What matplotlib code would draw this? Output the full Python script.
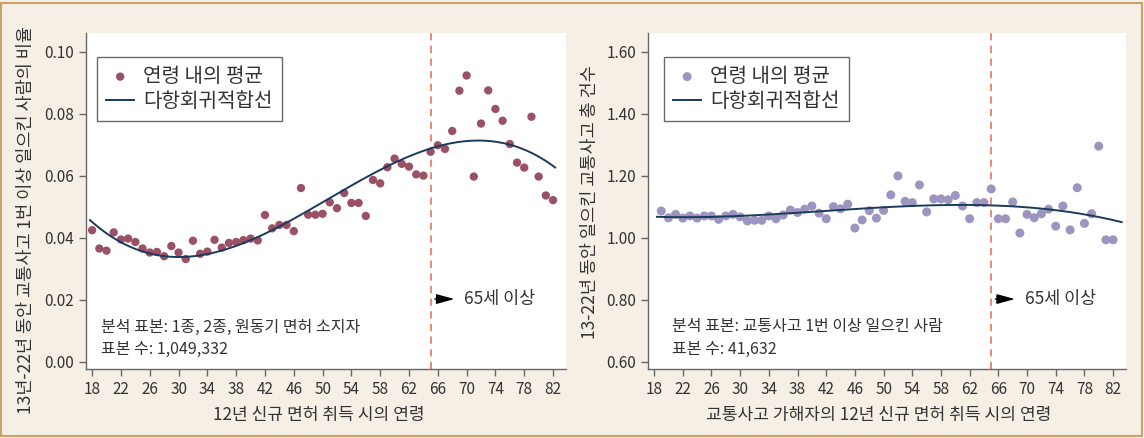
import numpy as np
import matplotlib
matplotlib.use("Agg")
import matplotlib.pyplot as plt
from matplotlib.patches import Rectangle

plt.rcParams['font.family'] = ['Noto Sans CJK KR', 'DejaVu Sans']
plt.rcParams['font.weight'] = 'light'

ages_left = list(range(18, 83))
ages_right = list(range(19, 83))

rate_left = [0.0425, 0.0366, 0.0359, 0.0418, 0.0395, 0.0398, 0.0387, 0.0366, 0.0353, 0.0355,
             0.0341, 0.0374, 0.0353, 0.0332, 0.0391, 0.0349, 0.0356, 0.0394, 0.0369, 0.0384,
             0.0387, 0.0393, 0.0398, 0.0392, 0.0474, 0.0431, 0.0442, 0.0442, 0.0422, 0.0561,
             0.0475, 0.0475, 0.0478, 0.0515, 0.0496, 0.0545, 0.0513, 0.0513, 0.0471, 0.0587,
             0.0576, 0.0628, 0.0656, 0.0639, 0.0630, 0.0605, 0.0601, 0.0678, 0.0699, 0.0687,
             0.0745, 0.0875, 0.0924, 0.0598, 0.0769, 0.0876, 0.0816, 0.0778, 0.0703, 0.0643,
             0.0627, 0.0791, 0.0598, 0.0537, 0.0522]

count_right = [1.087, 1.065, 1.076, 1.064, 1.071, 1.064, 1.071, 1.071, 1.060, 1.071,
               1.076, 1.068, 1.055, 1.057, 1.057, 1.071, 1.062, 1.074, 1.090, 1.082,
               1.093, 1.103, 1.080, 1.062, 1.101, 1.094, 1.109, 1.032, 1.058, 1.088,
               1.064, 1.089, 1.139, 1.200, 1.118, 1.114, 1.171, 1.084, 1.126, 1.126,
               1.123, 1.137, 1.103, 1.062, 1.114, 1.114, 1.158, 1.062, 1.062, 1.116,
               1.016, 1.076, 1.065, 1.078, 1.093, 1.038, 1.103, 1.026, 1.162, 1.047,
               1.078, 1.296, 0.994, 0.994]

xticks = list(range(18, 83, 4))
yticks_left = [0.00, 0.02, 0.04, 0.06, 0.08, 0.10]
yticks_right = [0.60, 0.80, 1.00, 1.20, 1.40, 1.60]

BG = '#F5EFE5'
DOT_L = '#9A5166'
DOT_R = '#9D94BF'
LINE = '#1B3A5C'
DASH = '#E8806A'
SPINE = '#666666'
TXT = '#333333'

fig = plt.figure(figsize=(11.44, 4.38), dpi=100, facecolor=BG)
fig.patches.append(Rectangle((0.001, 0.004), 0.997, 0.99, transform=fig.transFigure,
                             fill=False, edgecolor='#C9A46A', lw=1.5))

W, H = 1144, 438
axL = fig.add_axes([86 / W, (H - 369) / H, 480 / W, 336 / H])
axR = fig.add_axes([648 / W, (H - 369) / H, 478 / W, 336 / H])


def style(ax, ylim, yticks, fmt):
    ax.set_facecolor('white')
    for s in ['top', 'right']:
        ax.spines[s].set_visible(False)
    for s in ['left', 'bottom']:
        ax.spines[s].set_color(SPINE)
        ax.spines[s].set_linewidth(1.0)
    ax.set_xticks(xticks)
    ax.set_yticks(yticks)
    ax.set_yticklabels([fmt.format(v) for v in yticks])
    ax.set_ylim(*ylim)
    ax.tick_params(axis='both', colors=SPINE, labelcolor=TXT, labelsize=11, length=5, width=1)


def draw(ax, ages, vals, color, msize, ylim, yticks, fmt, xlabel, ylabel, note, note_x,
         arrow_y, legx, fit_range, deg):
    x = np.array(ages, dtype=float)
    y = np.array(vals)
    coef = np.polyfit(x, y, deg)
    xx = np.linspace(fit_range[0], fit_range[1], 300)
    ax.axvline(65, color=DASH, lw=1.3, ls=(0, (4, 3)), zorder=1)
    ax.scatter(x, y, s=msize, color=color, edgecolors='none', zorder=3, label='연령 내의 평균')
    ax.plot(xx, np.polyval(coef, xx), color=LINE, lw=1.4, zorder=4, label='다항회귀적합선')
    style(ax, ylim, yticks, fmt)
    ax.set_xlim(17.15, 83.8)
    ax.set_xlabel(xlabel, fontsize=12.3, color=TXT)
    ax.set_ylabel(ylabel, fontsize=12.6, color=TXT)
    leg = ax.legend(loc='upper left', bbox_to_anchor=(legx, 0.929), fontsize=14.5,
                    frameon=True, fancybox=False, edgecolor='#444444', handlelength=1.4,
                    handletextpad=0.45, borderpad=0.45, labelspacing=0.2, borderaxespad=0)
    leg.get_frame().set_linewidth(1.0)
    for t in leg.get_texts():
        t.set_color(TXT)
    ax.text(note_x, 0.125, note[0], transform=ax.transAxes, fontsize=11.5, color=TXT, va='center')
    ax.text(note_x, 0.058, note[1], transform=ax.transAxes, fontsize=11.5, color=TXT, va='center')
    ax.annotate('', xy=(68.7, arrow_y), xytext=(65.2, arrow_y),
                arrowprops=dict(arrowstyle='-|>,head_length=1.1,head_width=0.3',
                                color='black', lw=1.0))
    ax.text(69.7, arrow_y, '65세 이상', fontsize=12.5, color=TXT, va='center')


draw(axL, ages_left, rate_left, DOT_L, 36, (-0.00226, 0.1061), yticks_left, '{:.2f}',
     '12년 신규 면허 취득 시의 연령', '13년-22년 동안 교통사고 1번 이상 일으킨 사람의 비율',
     ['분석 표본: 1종, 2종, 원동기 면허 소지자', '표본 수: 1,049,332'], 0.031, 0.0203, 0.023,
     (17.7, 82.3), 3)
draw(axR, ages_right, count_right, DOT_R, 42, (0.5774, 1.661), yticks_right, '{:.2f}',
     '교통사고 가해자의 12년 신규 면허 취득 시의 연령', '13-22년 동안 일으킨 교통사고 총 건수',
     ['분석 표본: 교통사고 1번 이상 일으킨 사람', '표본 수: 41,632'], 0.05, 0.803, 0.0335,
     (18.4, 83.2), 3)

axL.yaxis.set_label_coords(-0.106, 0.443)
axR.yaxis.set_label_coords(-0.1025, 0.498)
axL.xaxis.set_label_coords(0.485, -0.11)
axR.xaxis.set_label_coords(0.482, -0.11)

fig.savefig('out.png', dpi=100, facecolor=BG)
